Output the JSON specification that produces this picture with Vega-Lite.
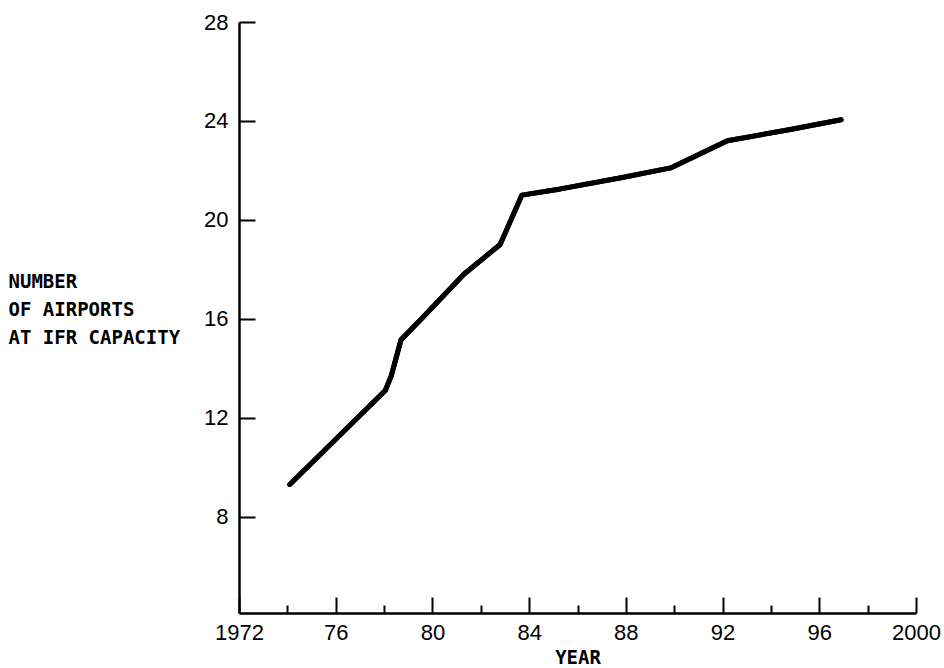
{
  "$schema": "https://vega.github.io/schema/vega-lite/v6.json",
  "autosize": "none",
  "width": 677,
  "height": 591,
  "padding": {"left": 239, "top": 22, "right": 28, "bottom": 55},
  "background": "white",
  "config": {"view": {"stroke": null}},
  "data": {
    "values": [
      {"year": 1974.1, "airports": 9.3},
      {"year": 1978.05, "airports": 13.1},
      {"year": 1978.3, "airports": 13.7},
      {"year": 1978.7, "airports": 15.15},
      {"year": 1979.5, "airports": 15.95},
      {"year": 1981.3, "airports": 17.8},
      {"year": 1982.8, "airports": 19.0},
      {"year": 1983.7, "airports": 21.0},
      {"year": 1985.3, "airports": 21.25},
      {"year": 1987.8, "airports": 21.7},
      {"year": 1989.85, "airports": 22.1},
      {"year": 1992.2, "airports": 23.2},
      {"year": 1994.8, "airports": 23.65},
      {"year": 1996.9, "airports": 24.05}
    ]
  },
  "resolve": {"axis": {"x": "independent", "y": "independent"}},
  "layer": [
    {
      "mark": {"type": "line", "color": "black", "strokeWidth": 5, "strokeCap": "round", "strokeJoin": "round"},
      "encoding": {
        "x": {
          "field": "year",
          "type": "quantitative",
          "scale": {"domain": [1972, 2000], "nice": false, "zero": false},
          "axis": {
            "orient": "bottom",
            "title": "YEAR",
            "titleFont": "DejaVu Sans Mono",
            "titleFontSize": 19,
            "titleFontWeight": "bold",
            "titleColor": "black",
            "titleBaseline": "top",
            "titleY": 35,
            "values": [1972, 1976, 1980, 1984, 1988, 1992, 1996, 2000],
            "format": "d",
            "labelExpr": "(datum.value === 1972 || datum.value === 2000) ? datum.label : substring(datum.label, 2)",
            "labelFont": "Liberation Sans Narrow, Liberation Sans, sans-serif",
            "labelFontSize": 22,
            "labelColor": "black",
            "labelBaseline": "top",
            "labelPadding": 9,
            "labelFlush": false,
            "labelOverlap": false,
            "ticks": false,
            "domainColor": "black",
            "domainWidth": 2.5,
            "grid": false
          }
        },
        "y": {
          "field": "airports",
          "type": "quantitative",
          "scale": {"domain": [4.1, 28], "nice": false, "zero": false},
          "axis": {
            "orient": "left",
            "title": ["NUMBER", "OF AIRPORTS", "AT IFR CAPACITY"],
            "titleFont": "DejaVu Sans Mono",
            "titleFontSize": 19,
            "titleFontWeight": "bold",
            "titleColor": "black",
            "titleAngle": 0,
            "titleAlign": "left",
            "titleBaseline": "top",
            "titleX": -231,
            "titleY": 250,
            "titleLineHeight": 28,
            "values": [8, 12, 16, 20, 24, 28],
            "labelFont": "Liberation Sans Narrow, Liberation Sans, sans-serif",
            "labelFontSize": 22,
            "labelColor": "black",
            "labelPadding": 11,
            "labelFlush": false,
            "ticks": false,
            "domainColor": "black",
            "domainWidth": 2.5,
            "grid": false
          }
        }
      }
    },
    {
      "mark": {"type": "line", "color": "black", "strokeWidth": 5, "strokeCap": "round", "strokeJoin": "round"},
      "encoding": {
        "x": {
          "field": "year",
          "type": "quantitative",
          "axis": {
            "orient": "top",
            "offset": -591,
            "title": null,
            "labels": false,
            "domain": false,
            "grid": false,
            "values": [1972, 1974, 1976, 1978, 1980, 1982, 1984, 1986, 1988, 1990, 1992, 1994, 1996, 1998, 2000],
            "tickSize": {"condition": {"test": "datum.value % 4 === 0", "value": 16}, "value": 8},
            "tickColor": "black",
            "tickWidth": 2
          }
        },
        "y": {
          "field": "airports",
          "type": "quantitative",
          "axis": {
            "orient": "right",
            "offset": -677,
            "title": null,
            "labels": false,
            "domain": false,
            "grid": false,
            "values": [8, 12, 16, 20, 24, 28],
            "tickSize": 16,
            "tickColor": "black",
            "tickWidth": 2
          }
        }
      }
    }
  ]
}
